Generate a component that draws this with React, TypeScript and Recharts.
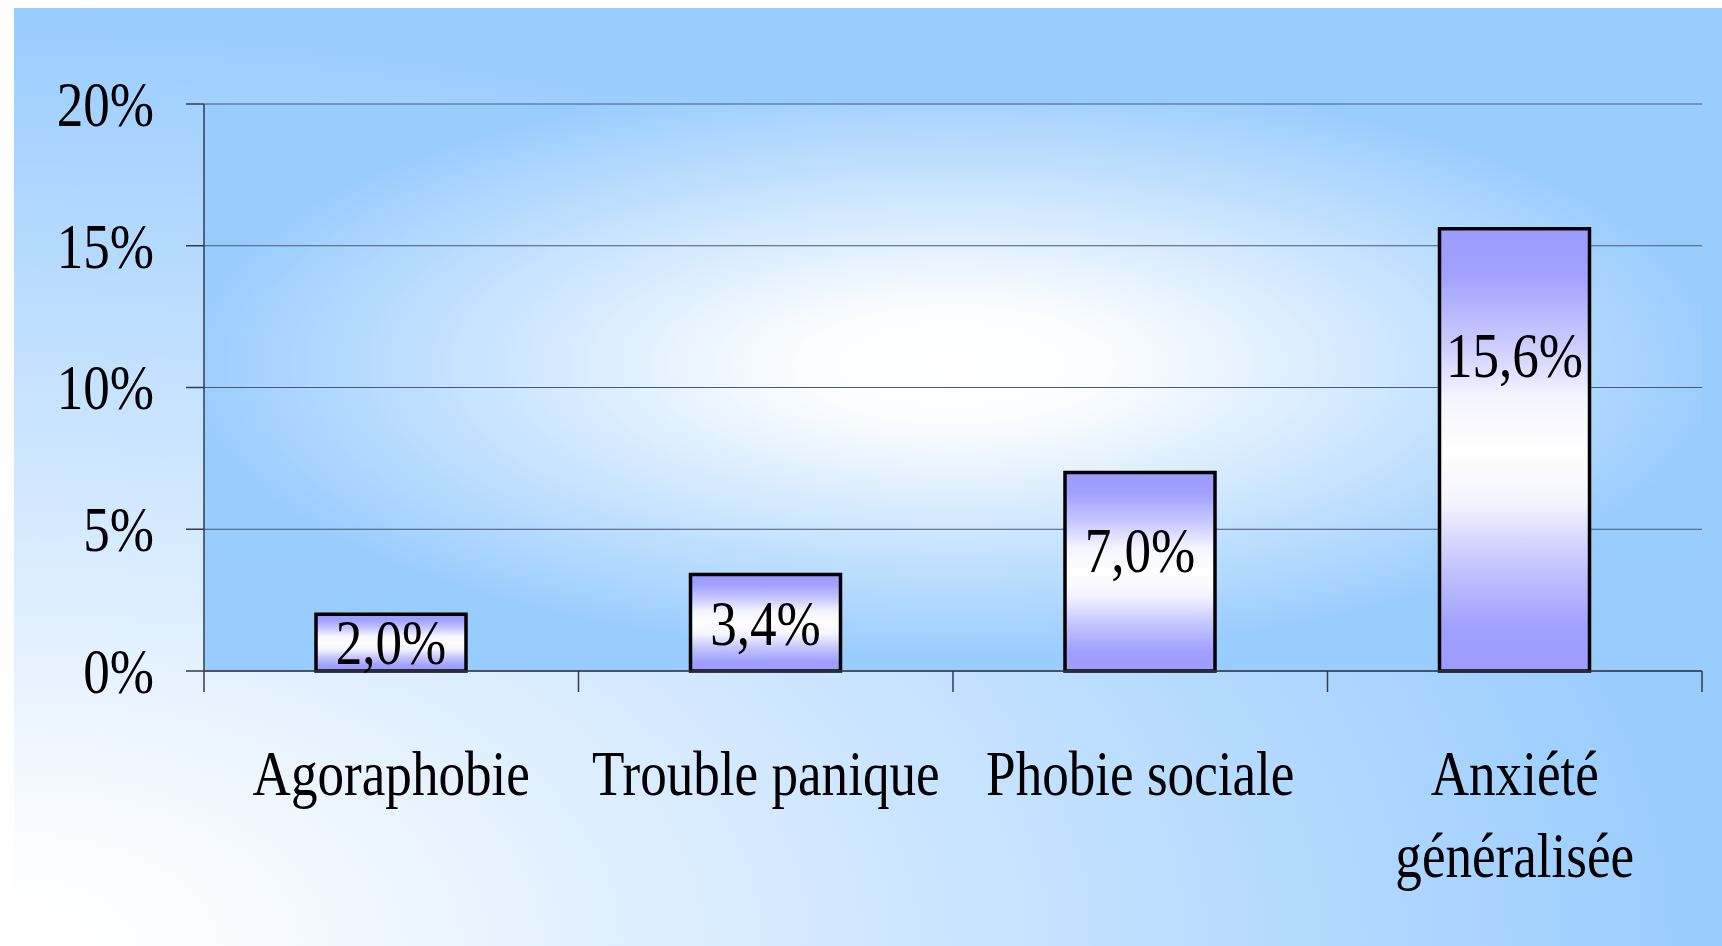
import { BarChart, Bar, XAxis, YAxis, CartesianGrid, LabelList } from "recharts";

// prévalence des troubles anxieux (%)
const categories = ["Agoraphobie", "Trouble panique", "Phobie sociale", "Anxiété généralisée"];
const prevalence = [2.0, 3.4, 7.0, 15.6];
const yTicks = [0, 5, 10, 15, 20];

const data = categories.map((name, i) => ({ name, value: prevalence[i] }));

const W = 1722;
const H = 946;
const xAxisHeight = 30;
const margin = { top: 104, right: 20, bottom: 275 - xAxisHeight, left: 0 };
const yAxisWidth = 204;
const bandWidth = (W - margin.left - margin.right - yAxisWidth) / categories.length;

const FONT = '"Liberation Serif", "Times New Roman", serif';
const SQUEEZE = 0.83; // the original text is horizontally condensed
const GRID = "#4b5870";
const AXIS = "#333c4a";

const fmt = (v: number) => v.toFixed(1).replace(".", ",") + "%";

function YTick(props: any) {
  const { x, y, payload } = props;
  return (
    <text
      transform={`translate(${x},${y}) scale(${SQUEEZE},1)`}
      textAnchor="end"
      dy="0.34em"
      fontFamily={FONT}
      fontSize={64}
      fill="#000"
    >
      {payload.value}%
    </text>
  );
}

function XTick(props: any) {
  const { x, y, payload, index } = props;
  const label: string = payload.value;
  const lines = label.length > 16 ? label.split(" ") : [label];
  const left = x - bandWidth / 2;
  const right = x + bandWidth / 2;
  return (
    <g>
      <line x1={left} x2={left} y1={y} y2={y + 21} stroke={AXIS} strokeWidth={1.5} />
      {index === categories.length - 1 && (
        <line x1={right} x2={right} y1={y} y2={y + 21} stroke={AXIS} strokeWidth={1.5} />
      )}
      <text
        transform={`translate(${x},${y + 124}) scale(${SQUEEZE},1)`}
        textAnchor="middle"
        fontFamily={FONT}
        fontSize={64}
        fill="#000"
      >
        {lines.map((l, i) => (
          <tspan key={i} x={0} dy={i === 0 ? 0 : 82}>
            {l}
          </tspan>
        ))}
      </text>
    </g>
  );
}

function BarLabel(props: any) {
  const { x, y, width, height, value } = props;
  const off = Math.min(height / 2, 38 + 0.2 * height);
  return (
    <text
      transform={`translate(${x + width / 2},${y + off}) scale(${SQUEEZE},1)`}
      textAnchor="middle"
      dy="0.34em"
      fontFamily={FONT}
      fontSize={64}
      fill="#000"
    >
      {fmt(value)}
    </text>
  );
}

export default function App() {
  return (
    <div style={{ position: "absolute", left: 0, top: 0, width: W, height: H, overflow: "hidden" }}>
      <div
        style={{
          position: "absolute",
          left: 14,
          top: 8,
          right: 0,
          bottom: 0,
          background: "radial-gradient(farthest-side at 0% 100%, #ffffff 0%, #fcfdff 10%, #99ccff 100%)",
        }}
      />
      <svg width={0} height={0} style={{ position: "absolute" }}>
        <defs>
          <radialGradient id="plotBg" cx="0.5" cy="0.46" r="0.52">
            <stop offset="0%" stopColor="#ffffff" />
            <stop offset="20%" stopColor="#fbfdff" />
            <stop offset="100%" stopColor="#99ccff" />
          </radialGradient>
          <linearGradient id="barGrad" x1="0" y1="0" x2="0" y2="1">
            <stop offset="0%" stopColor="#9c9cff" />
            <stop offset="10%" stopColor="#a0a0ff" />
            <stop offset="25%" stopColor="#c8c8ff" />
            <stop offset="38%" stopColor="#f4f4ff" />
            <stop offset="50%" stopColor="#ffffff" />
            <stop offset="62%" stopColor="#f4f4ff" />
            <stop offset="75%" stopColor="#c8c8ff" />
            <stop offset="90%" stopColor="#a0a0ff" />
            <stop offset="100%" stopColor="#9c9cff" />
          </linearGradient>
        </defs>
      </svg>
      <div style={{ position: "absolute", left: 0, top: 0 }}>
        <BarChart width={W} height={H} data={data} margin={margin}>
          <CartesianGrid vertical={false} stroke={GRID} strokeWidth={1.2} fill="url(#plotBg)" />
          <XAxis
            dataKey="name"
            height={xAxisHeight}
            interval={0}
            tickSize={0}
            tickMargin={0}
            tickLine={false}
            axisLine={{ stroke: AXIS, strokeWidth: 1.5 }}
            tick={<XTick />}
          />
          <YAxis
            width={yAxisWidth}
            domain={[0, 20]}
            ticks={yTicks}
            interval={0}
            tickSize={18}
            tickMargin={32}
            axisLine={{ stroke: AXIS, strokeWidth: 1.5 }}
            tickLine={{ stroke: AXIS, strokeWidth: 1.5 }}
            tick={<YTick />}
          />
          <Bar
            dataKey="value"
            fill="url(#barGrad)"
            stroke="#000"
            strokeWidth={3.5}
            barSize={150}
            isAnimationActive={false}
          >
            <LabelList dataKey="value" content={<BarLabel />} />
          </Bar>
        </BarChart>
      </div>
    </div>
  );
}
